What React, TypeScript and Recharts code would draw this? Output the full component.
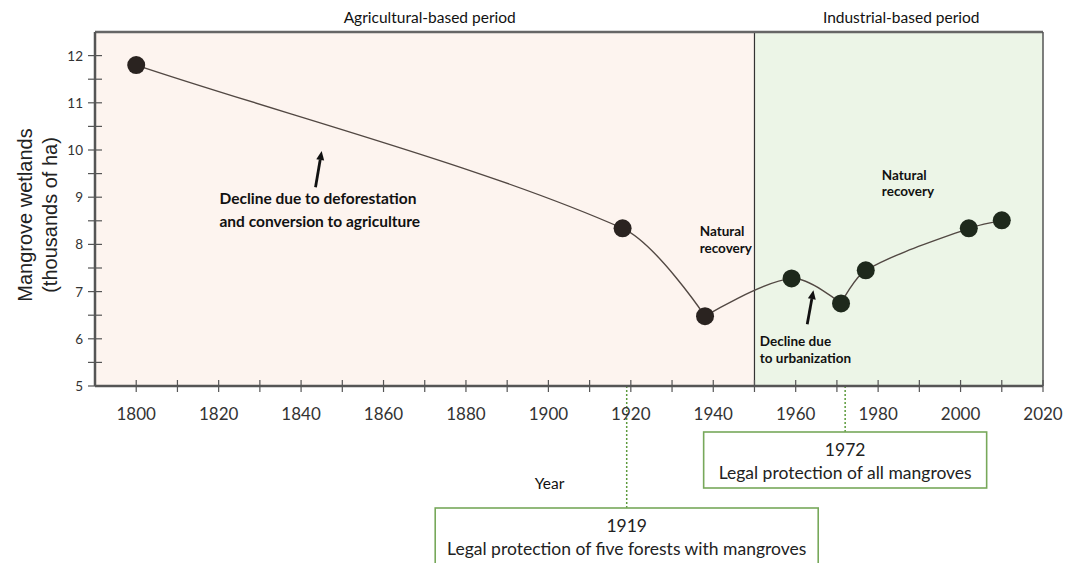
import React from "react"
import { LineChart, Line, XAxis, YAxis, ReferenceArea, ReferenceLine, ReferenceDot } from "recharts"

const years = [1800, 1918, 1938, 1959, 1971, 1977, 2002, 2010]
const wetlands = [11.8, 8.34, 6.48, 7.28, 6.75, 7.45, 8.34, 8.51]
const xTicks = [1800, 1810, 1820, 1830, 1840, 1850, 1860, 1870, 1880, 1890, 1900, 1910, 1920, 1930, 1940, 1950, 1960, 1970, 1980, 1990, 2000, 2010, 2020]
const yTicks = [5, 5.5, 6, 6.5, 7, 7.5, 8, 8.5, 9, 9.5, 10, 10.5, 11, 11.5, 12]
const periods = ["Agricultural-based period", "Industrial-based period"]
const protectionYears = [1919, 1972]
const protectionTexts = ["Legal protection of five forests with mangroves", "Legal protection of all mangroves"]

const data = years.map((year, i) => ({ year, value: wetlands[i] }))

const axisColor = "#555555"
const tickFont = "Lato, 'Open Sans', sans-serif"

// hand-drawn look: smooth through peaks, sharp turn at the dips
const smoothCurve = (context: any) => {
  let pts: number[][] = []
  return {
    areaStart() {},
    areaEnd() {},
    lineStart() {
      pts = []
    },
    point(x: number, y: number) {
      pts.push([+x, +y])
    },
    lineEnd() {
      const n = pts.length
      if (!n) return
      context.moveTo(pts[0][0], pts[0][1])
      const tan = pts.map((p, i) => {
        const a = pts[Math.max(0, i - 1)]
        const b = pts[Math.min(n - 1, i + 1)]
        if (i > 0 && i < n - 1 && p[1] > a[1] && p[1] > b[1]) return [0, 0]
        const dx = b[0] - a[0]
        const dy = b[1] - a[1]
        const len = Math.hypot(dx, dy) || 1
        return [dx / len, dy / len]
      })
      for (let i = 0; i < n - 1; i++) {
        const p = pts[i]
        const q = pts[i + 1]
        const d = Math.hypot(q[0] - p[0], q[1] - p[1]) * 0.3
        context.bezierCurveTo(
          p[0] + tan[i][0] * d,
          p[1] + tan[i][1] * d,
          q[0] - tan[i + 1][0] * d,
          q[1] - tan[i + 1][1] * d,
          q[0],
          q[1],
        )
      }
    },
  }
}

const XTick = (props: any) => {
  const { x, y, payload } = props
  const showLabel = payload.value % 20 === 0
  return (
    <g>
      <line x1={x} x2={x} y1={y - 6} y2={y + 6} stroke={axisColor} strokeWidth={1.2} />
      {showLabel && (
        <text x={x} y={y + 27} textAnchor="middle" dominantBaseline="central" fontSize={17} fontFamily={tickFont} fill="#333">
          {payload.value}
        </text>
      )}
    </g>
  )
}

const YTick = (props: any) => {
  const { x, y, payload, side } = props
  const showLabel = Number.isInteger(payload.value)
  return (
    <g>
      <line x1={x - 7} x2={x + 7} y1={y} y2={y} stroke={axisColor} strokeWidth={1.2} />
      {showLabel && (
        <text
          x={side === "left" ? x - 12 : x + 12}
          y={y}
          textAnchor={side === "left" ? "end" : "start"}
          dominantBaseline="central"
          fontSize={13.5}
          fontFamily={tickFont}
          fill="#333"
        >
          {payload.value}
        </text>
      )}
    </g>
  )
}

const Dot = (props: any) => {
  const { cx, cy, payload, index } = props
  return <circle key={index} cx={cx} cy={cy} r={9} fill={payload.year > 1950 ? "#1e291c" : "#2a2320"} />
}

const Arrow = (props: any) => {
  const { x1, y1, x2, y2 } = props
  const ang = Math.atan2(y2 - y1, x2 - x1)
  const hl = 9
  const hw = 4
  const bx = x2 - hl * Math.cos(ang)
  const by = y2 - hl * Math.sin(ang)
  const px = -Math.sin(ang) * hw
  const py = Math.cos(ang) * hw
  return (
    <g>
      <line x1={x1} y1={y1} x2={bx} y2={by} stroke="#111" strokeWidth={2.8} />
      <polygon points={`${x2},${y2} ${bx + px},${by + py} ${bx - px},${by - py}`} fill="#111" />
    </g>
  )
}

const boxShape = (i: number, drop: number, width: number) => (props: any) => {
  const { x1, y1, y2 } = props
  const bottom = Math.max(y1, y2)
  const top = bottom + drop
  return (
    <g>
      <line x1={x1} x2={x1} y1={bottom} y2={top} stroke="#5c9a3c" strokeWidth={1.5} strokeDasharray="2 2" />
      <rect x={x1 - width / 2} y={top} width={width} height={56} fill="#fff" stroke="#77a85a" strokeWidth={1.6} />
      <text x={x1} y={top + 17} textAnchor="middle" dominantBaseline="central" fontSize={17.5} fontFamily={tickFont} fill="#222">
        {protectionYears[i]}
      </text>
      <text x={x1} y={top + 40} textAnchor="middle" dominantBaseline="central" fontSize={17.5} fontFamily={tickFont} fill="#222">
        {protectionTexts[i]}
      </text>
    </g>
  )
}

const note = (text: string, size: number, weight = "bold", anchor = "start") => (props: any) => (
  <text
    x={props.cx}
    y={props.cy}
    textAnchor={anchor}
    dominantBaseline="central"
    fontSize={size}
    fontWeight={weight}
    fontFamily={tickFont}
    fill="#111"
  >
    {text}
  </text>
)

const YLabel = (props: any) => {
  const { viewBox } = props
  const cy = viewBox.y + viewBox.height / 2 + 6
  const f = "'Liberation Sans', Arial, sans-serif"
  return (
    <g>
      <text x={25} y={cy} transform={`rotate(-90 25 ${cy})`} textAnchor="middle" dominantBaseline="central" fontSize={20} fontFamily={f} fill="#222">
        Mangrove wetlands
      </text>
      <text x={50} y={cy} transform={`rotate(-90 50 ${cy})`} textAnchor="middle" dominantBaseline="central" fontSize={20} fontFamily={f} fill="#222">
        (thousands of ha)
      </text>
    </g>
  )
}

export default function App() {
  return (
    <div style={{ width: 1078, height: 563, background: "#fff" }}>
      <style>{"body{margin:0}"}</style>
      <LineChart width={1078} height={563} data={data} margin={{ top: 32, right: 0, left: 55, bottom: 147 }}>
        <ReferenceArea x1={1790} x2={1950} y1={5} y2={12.5} fill="#fdf4ef" fillOpacity={1} stroke="none" />
        <ReferenceArea x1={1950} x2={2020} y1={5} y2={12.5} fill="#ecf5e7" fillOpacity={1} stroke="none" />
        <ReferenceLine x={1950} stroke="#333" strokeWidth={1.2} />
        <ReferenceLine y={12.5} stroke="#666" strokeWidth={2.5} />
        <XAxis
          type="number"
          dataKey="year"
          domain={[1790, 2020]}
          ticks={xTicks}
          interval={0}
          height={30}
          tickSize={0}
          tickMargin={0}
          tickLine={false}
          tick={<XTick />}
          axisLine={{ stroke: axisColor, strokeWidth: 2.5 }}
        />
        <YAxis
          domain={[5, 12.5]}
          ticks={yTicks}
          interval={0}
          width={40}
          tickSize={0}
          tickMargin={0}
          tickLine={false}
          tick={<YTick side="left" />}
          axisLine={{ stroke: axisColor, strokeWidth: 2.5 }}
          label={<YLabel />}
        />
        <YAxis
          yAxisId="r"
          orientation="right"
          domain={[5, 12.5]}
          ticks={yTicks}
          interval={0}
          width={35}
          tickSize={0}
          tickMargin={0}
          tickLine={false}
          tick={<YTick side="right" />}
          axisLine={{ stroke: axisColor, strokeWidth: 1.5 }}
        />
        <Line
          type={smoothCurve as any}
          dataKey="value"
          stroke="#524843"
          strokeWidth={1.4}
          dot={<Dot />}
          activeDot={false}
          isAnimationActive={false}
        />
        <ReferenceDot x={1871.2} y={12.82} ifOverflow="visible" shape={note(periods[0], 15.5, "normal", "middle")} />
        <ReferenceDot x={1985.6} y={12.82} ifOverflow="visible" shape={note(periods[1], 15.5, "normal", "middle")} />
        <ReferenceLine segment={[{ x: 1843.5, y: 9.21 }, { x: 1845, y: 9.98 }]} shape={<Arrow />} />
        <ReferenceLine segment={[{ x: 1962.8, y: 6.31 }, { x: 1964.3, y: 7.03 }]} shape={<Arrow />} />
        <ReferenceDot x={1820.2} y={8.98} ifOverflow="visible" shape={note("Decline due to deforestation", 15.5)} />
        <ReferenceDot x={1820.2} y={8.49} ifOverflow="visible" shape={note("and conversion to agriculture", 15.5)} />
        <ReferenceDot x={1936.7} y={8.28} ifOverflow="visible" shape={note("Natural", 13.5)} />
        <ReferenceDot x={1936.7} y={7.93} ifOverflow="visible" shape={note("recovery", 13.5)} />
        <ReferenceDot x={1951.3} y={5.95} ifOverflow="visible" shape={note("Decline due", 13.5)} />
        <ReferenceDot x={1951.3} y={5.6} ifOverflow="visible" shape={note("to urbanization", 13.5)} />
        <ReferenceDot x={1980.9} y={9.48} ifOverflow="visible" shape={note("Natural", 13.5)} />
        <ReferenceDot x={1980.9} y={9.14} ifOverflow="visible" shape={note("recovery", 13.5)} />
        <ReferenceDot x={1900.3} y={2.95} ifOverflow="visible" shape={note("Year", 15.5, "normal", "middle")} />
        <ReferenceLine x={protectionYears[0]} ifOverflow="visible" shape={boxShape(0, 122, 383)} />
        <ReferenceLine x={protectionYears[1]} ifOverflow="visible" shape={boxShape(1, 46, 283)} />
      </LineChart>
    </div>
  )
}
